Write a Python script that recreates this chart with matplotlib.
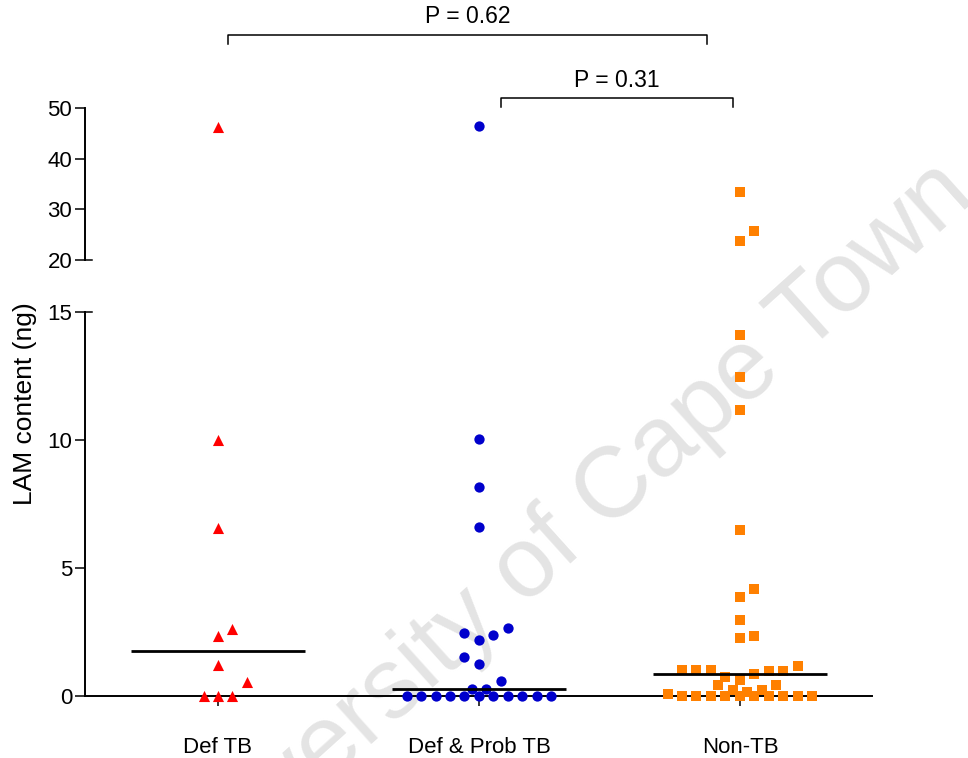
import matplotlib
matplotlib.use("Agg")
import matplotlib.pyplot as plt
import matplotlib.transforms as mtransforms
import numpy as np

plt.rcParams['font.family'] = ['Liberation Sans', 'DejaVu Sans']

groups = ["Def TB", "Def & Prob TB", "Non-TB"]

# LAM content (ng)
def_tb = [46.2, 10.0, 6.56, 2.6, 2.34, 1.21, 0.53, 0, 0, 0]
def_prob_tb = [46.4, 10.04, 8.15, 6.59, 2.64, 2.45, 2.38, 2.19, 1.51, 1.25,
               0.59, 0.27, 0.27, 0, 0, 0, 0, 0, 0, 0, 0, 0, 0, 0]
non_tb = [33.5, 25.8, 23.75, 14.1, 12.45, 11.17, 6.48, 4.17, 3.88, 2.97,
          2.34, 2.28, 1.02, 1.02, 1.02, 0.99, 0.99, 1.17, 0.86, 0.73,
          0.625, 0.42, 0.42, 0.23, 0.23, 0.16,
          0.08, 0, 0, 0, 0, 0, 0, 0, 0, 0, 0]

# horizontal slot of every point in the scatter (GraphPad-like spread)
def_tb_slot = [0, 0, 0, 1, 0, 0, 2, -1, 0, 1]
def_prob_tb_slot = [0, 0, 0, 0, 2, -1, 1, 0, -1, 0,
                    1.5, -0.5, 0.5, -5, -4, -3, -2, -1, 0, 1, 2, 3, 4, 5]
non_tb_slot = [0, 1, 0, 0, 0, 0, 0, 1, 0, 0,
               1, 0, -4, -3, -2, 2, 3, 4, 1, -1,
               0, -1.5, 2.5, -0.5, 1.5, 0.5,
               -5, -4, -3, -2, -1, 0, 1, 2, 3, 4, 5]

pvals = ["P = 0.62", "P = 0.31"]

series = [(def_tb, def_tb_slot, "^", "#ff0000", 64),
          (def_prob_tb, def_prob_tb_slot, "o", "#0000cc", 55),
          (non_tb, non_tb_slot, "s", "#ff8000", 46)]

step = 0.0555
half = 0.335

fig = plt.figure(figsize=(9.68, 7.58), dpi=100)
W, H = 968.0, 758.0
x0, x1 = 85, 872
ax_lo = fig.add_axes([x0 / W, (H - 696) / H, (x1 - x0) / W, (696 - 312) / H])
ax_hi = fig.add_axes([x0 / W, (H - 260) / H, (x1 - x0) / W, (260 - 108) / H])
for ax in (ax_lo, ax_hi):
    ax.set_facecolor("none")
    ax.set_xlim(-0.5096, 2.506)
    for s in ("top", "right"):
        ax.spines[s].set_visible(False)
    ax.spines["left"].set_linewidth(1.4)
    ax.spines["bottom"].set_linewidth(1.4)
    ax.tick_params(axis="y", length=7.2, width=1.1, labelsize=16, pad=2)

ax_lo.set_ylim(0, 15)
ax_lo.set_yticks([0, 5, 10, 15])
ax_lo.set_xticks(range(3))
ax_lo.set_xticklabels(groups)
ax_lo.tick_params(axis="x", length=7.2, width=1.1, labelsize=16, pad=22)

ax_hi.set_ylim(20, 50)
ax_hi.set_yticks([20, 30, 40, 50])
ax_hi.spines["bottom"].set_visible(False)
ax_hi.set_xticks([])

for i, (vals, slots, mk, col, sz) in enumerate(series):
    v = np.array(vals, dtype=float)
    x = i + np.array(slots, dtype=float) * step
    lo = v < 20
    ax_lo.scatter(x[lo], v[lo], marker=mk, s=sz, color=col, lw=0,
                  clip_on=False, zorder=3)
    ax_hi.scatter(x[~lo], v[~lo], marker=mk, s=sz, color=col, lw=0,
                  clip_on=False, zorder=3)
    med = np.median(v)
    ax_lo.plot([i - half, i + half], [med, med], color="black", lw=2,
               solid_capstyle="butt", zorder=4)

# little marks at the axis break
for ax, yv in ((ax_lo, 15), (ax_hi, 20)):
    tr = mtransforms.blended_transform_factory(ax.transAxes, ax.transData)
    ax.plot([0, 0.009], [yv, yv], color="black", lw=1.1, transform=tr,
            clip_on=False)

# significance brackets
brackets = [(0.038, 1.874, 64.4, 62.6, pvals[0]),
            (1.084, 1.973, 51.9, 50.2, pvals[1])]
for xa, xb, yt, yb, lab in brackets:
    ax_hi.plot([xa, xa, xb, xb], [yb, yt, yt, yb], color="black", lw=1.1,
               clip_on=False)
    ax_hi.text((xa + xb) / 2, yt + 1.3, lab, ha="center", va="bottom",
               fontsize=16.5)

fig.text(25 / W, 1 - 404 / H, "LAM content (ng)", rotation=90,
         ha="center", va="center", fontsize=19)

# watermark
fig.text(0.596, 0.262, "University of Cape Town", rotation=42,
         rotation_mode="anchor", ha="center", va="baseline", fontsize=72,
         color="#e4e4e4", zorder=-1)

plt.savefig("out.png", dpi=100)
